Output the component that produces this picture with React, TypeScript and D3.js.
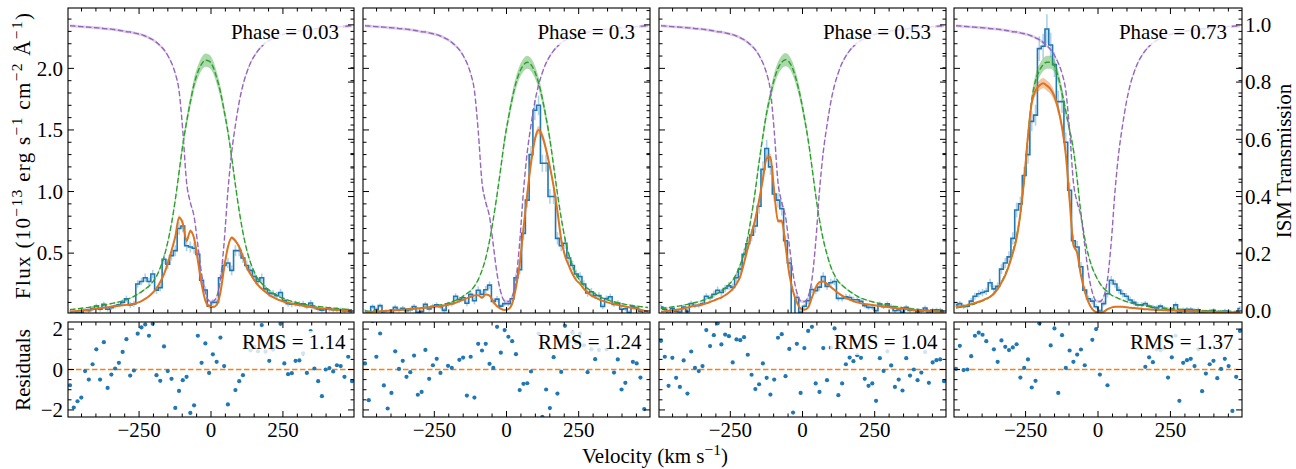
import React from 'react';
import * as d3 from 'd3';

// ---------------- DATA ----------------
const velocity = [
  -490.0, -476.9, -463.9, -450.8, -437.7, -424.7, -411.6, -398.5, -385.5, -372.4,
  -359.3, -346.3, -333.2, -320.1, -307.1, -294.0, -280.9, -267.9, -254.8, -241.7,
  -228.7, -215.6, -202.5, -189.5, -176.4, -163.3, -150.3, -137.2, -124.1, -111.1,
  -98.0, -84.9, -71.9, -58.8, -45.7, -32.7, -19.6, -6.5, 6.5, 19.6,
  32.7, 45.7, 58.8, 71.9, 84.9, 98.0, 111.1, 124.1, 137.2, 150.3,
  163.3, 176.4, 189.5, 202.5, 215.6, 228.7, 241.7, 254.8, 267.9, 280.9,
  294.0, 307.1, 320.1, 333.2, 346.3, 359.3, 372.4, 385.5, 398.5, 411.6,
  424.7, 437.7, 450.8, 463.9, 476.9, 490.0,
];

const phaseLabels = ['0.03', '0.3', '0.53', '0.73'];
const rmsLabels = ['1.14', '1.24', '1.04', '1.37'];

const ismTransmission = [
  0.997, 0.996, 0.995, 0.994, 0.993, 0.992, 0.991, 0.990, 0.989, 0.987,
  0.986, 0.985, 0.983, 0.981, 0.979, 0.976, 0.975, 0.972, 0.969, 0.966,
  0.961, 0.955, 0.948, 0.939, 0.927, 0.913, 0.893, 0.867, 0.830, 0.770,
  0.630, 0.450, 0.380, 0.330, 0.230, 0.130, 0.065, 0.035, 0.033, 0.050,
  0.110, 0.240, 0.420, 0.555, 0.650, 0.730, 0.790, 0.833, 0.867, 0.891,
  0.910, 0.925, 0.938, 0.946, 0.954, 0.960, 0.964, 0.968, 0.972, 0.974,
  0.977, 0.979, 0.981, 0.983, 0.985, 0.986, 0.987, 0.989, 0.990, 0.991,
  0.992, 0.993, 0.994, 0.995, 0.996, 0.997,
];
const ismUnc = 0.005;

const flux1 = [
  0.020, 0.012, 0.015, 0.018, 0.036, 0.032, 0.050, 0.070, 0.045, 0.085,
  0.045, 0.058, 0.070, 0.080, 0.100, 0.130, 0.080, 0.088, 0.250, 0.270,
  0.300, 0.270, 0.330, 0.200, 0.220, 0.450, 0.410, 0.480, 0.520, 0.700,
  0.720, 0.560, 0.550, 0.540, 0.490, 0.280, 0.200, 0.070, 0.100, 0.100,
  0.300, 0.400, 0.420, 0.360, 0.520, 0.520, 0.460, 0.400, 0.360, 0.310,
  0.270, 0.300, 0.210, 0.175, 0.170, 0.155, 0.180, 0.115, 0.090, 0.085,
  0.090, 0.085, 0.088, 0.065, 0.095, 0.060, 0.047, 0.037, 0.048, 0.046,
  0.041, 0.042, 0.038, 0.030, 0.038, 0.022,
];
const flux2 = [
  0.028, 0.008, 0.066, 0.042, 0.074, 0.012, 0.006, 0.012, 0.060, 0.039,
  0.052, 0.032, 0.041, 0.067, 0.020, 0.025, 0.084, 0.047, 0.069, 0.081,
  0.065, 0.035, 0.086, 0.090, 0.150, 0.122, 0.138, 0.093, 0.165, 0.113,
  0.199, 0.166, 0.203, 0.240, 0.108, 0.127, 0.070, 0.090, 0.089, 0.130,
  0.300, 0.366, 0.660, 0.930, 1.300, 1.660, 1.700, 1.230, 1.230, 0.960,
  0.960, 0.620, 0.560, 0.580, 0.460, 0.400, 0.330, 0.310, 0.250, 0.176,
  0.187, 0.156, 0.155, 0.067, 0.132, 0.146, 0.084, 0.095, 0.045, 0.048,
  0.018, 0.064, 0.055, 0.029, 0.006, 0.005,
];
const flux3 = [
  0.062, 0.044, 0.011, 0.052, 0.029, 0.022, 0.063, 0.025, 0.091, 0.074,
  0.076, 0.090, 0.150, 0.138, 0.166, 0.199, 0.180, 0.213, 0.234, 0.222,
  0.300, 0.370, 0.490, 0.576, 0.646, 0.720, 0.880, 1.180, 1.350, 1.200,
  0.980, 0.930, 0.860, 0.600, 0.420, -0.020, 0.140, 0.020, 0.069, 0.113,
  0.205, 0.196, 0.224, 0.310, 0.230, 0.260, 0.270, 0.133, 0.133, 0.145,
  0.140, 0.122, 0.121, 0.109, 0.074, 0.060, 0.059, 0.032, 0.087, 0.065,
  0.088, 0.065, 0.032, 0.038, 0.020, 0.060, 0.034, 0.039, 0.023, 0.031,
  0.054, 0.013, 0.037, 0.039, 0.038, 0.009,
];
const flux4 = [
  0.080, 0.090, 0.065, 0.070, 0.110, 0.150, 0.170, 0.180, 0.190, 0.260,
  0.210, 0.230, 0.370, 0.420, 0.470, 0.620, 0.850, 0.900, 1.130, 1.300,
  1.570, 1.620, 2.160, 2.180, 2.320, 2.190, 2.030, 1.730, 1.730, 1.400,
  1.010, 0.600, 0.550, 0.390, 0.200, 0.130, 0.110, 0.065, 0.030, 0.090,
  0.170, 0.280, 0.250, 0.200, 0.170, 0.150, 0.120, 0.100, 0.080, 0.080,
  0.090, 0.070, 0.060, 0.055, 0.070, 0.050, 0.040, 0.045, 0.080, 0.020,
  0.040, 0.045, 0.045, 0.035, 0.040, 0.015, 0.025, 0.030, 0.035, 0.020,
  0.022, 0.030, 0.025, 0.000, 0.015, 0.050,
];

const fluxErr1 = [
  0.018, 0.018, 0.018, 0.018, 0.018, 0.018, 0.020, 0.020, 0.020, 0.020,
  0.020, 0.020, 0.020, 0.020, 0.025, 0.025, 0.025, 0.025, 0.030, 0.030,
  0.035, 0.030, 0.035, 0.030, 0.030, 0.040, 0.040, 0.040, 0.045, 0.050,
  0.050, 0.045, 0.045, 0.045, 0.040, 0.035, 0.030, 0.020, 0.025, 0.025,
  0.035, 0.040, 0.040, 0.040, 0.045, 0.045, 0.040, 0.040, 0.040, 0.035,
  0.035, 0.035, 0.030, 0.030, 0.030, 0.030, 0.030, 0.025, 0.025, 0.025,
  0.025, 0.025, 0.025, 0.020, 0.025, 0.020, 0.020, 0.020, 0.020, 0.020,
  0.020, 0.020, 0.020, 0.018, 0.018, 0.018,
];
const fluxErr2 = [
  0.018, 0.018, 0.018, 0.018, 0.018, 0.018, 0.018, 0.018, 0.020, 0.020,
  0.020, 0.020, 0.020, 0.020, 0.020, 0.020, 0.020, 0.020, 0.020, 0.020,
  0.020, 0.020, 0.022, 0.022, 0.025, 0.025, 0.025, 0.025, 0.028, 0.028,
  0.030, 0.030, 0.030, 0.030, 0.025, 0.025, 0.020, 0.020, 0.020, 0.025,
  0.035, 0.040, 0.050, 0.060, 0.070, 0.080, 0.080, 0.070, 0.070, 0.060,
  0.060, 0.050, 0.045, 0.045, 0.040, 0.040, 0.035, 0.035, 0.030, 0.030,
  0.030, 0.028, 0.028, 0.022, 0.025, 0.025, 0.022, 0.022, 0.020, 0.020,
  0.018, 0.020, 0.020, 0.018, 0.018, 0.018,
];
const fluxErr3 = [
  0.020, 0.020, 0.018, 0.020, 0.018, 0.018, 0.020, 0.018, 0.022, 0.020,
  0.020, 0.022, 0.025, 0.025, 0.028, 0.030, 0.030, 0.030, 0.032, 0.032,
  0.035, 0.040, 0.045, 0.045, 0.050, 0.055, 0.060, 0.065, 0.070, 0.065,
  0.060, 0.060, 0.055, 0.045, 0.040, 0.020, 0.025, 0.018, 0.020, 0.025,
  0.030, 0.030, 0.030, 0.035, 0.030, 0.032, 0.032, 0.025, 0.025, 0.025,
  0.025, 0.025, 0.025, 0.022, 0.020, 0.020, 0.020, 0.018, 0.020, 0.020,
  0.020, 0.020, 0.018, 0.018, 0.018, 0.020, 0.018, 0.018, 0.018, 0.018,
  0.020, 0.018, 0.018, 0.018, 0.018, 0.018,
];
const fluxErr4 = [
  0.020, 0.022, 0.020, 0.020, 0.025, 0.028, 0.030, 0.030, 0.030, 0.032,
  0.030, 0.032, 0.040, 0.042, 0.045, 0.050, 0.060, 0.060, 0.070, 0.075,
  0.080, 0.085, 0.100, 0.100, 0.120, 0.100, 0.100, 0.090, 0.090, 0.080,
  0.065, 0.050, 0.048, 0.040, 0.030, 0.025, 0.025, 0.020, 0.018, 0.022,
  0.030, 0.035, 0.032, 0.030, 0.030, 0.028, 0.025, 0.025, 0.022, 0.022,
  0.022, 0.020, 0.020, 0.020, 0.020, 0.020, 0.018, 0.018, 0.022, 0.018,
  0.018, 0.018, 0.018, 0.018, 0.018, 0.018, 0.018, 0.018, 0.018, 0.018,
  0.018, 0.018, 0.018, 0.018, 0.018, 0.018,
];

const model1 = [
  0.026, 0.028, 0.031, 0.034, 0.037, 0.040, 0.044, 0.048, 0.052, 0.056,
  0.060, 0.064, 0.068, 0.072, 0.076, 0.080, 0.084, 0.089, 0.098, 0.110,
  0.128, 0.150, 0.178, 0.213, 0.265, 0.330, 0.417, 0.520, 0.635, 0.790,
  0.740, 0.600, 0.680, 0.620, 0.440, 0.250, 0.115, 0.070, 0.062, 0.080,
  0.180, 0.380, 0.550, 0.625, 0.600, 0.550, 0.470, 0.385, 0.330, 0.280,
  0.240, 0.210, 0.185, 0.160, 0.142, 0.127, 0.115, 0.105, 0.097, 0.090,
  0.083, 0.078, 0.073, 0.068, 0.063, 0.059, 0.055, 0.051, 0.048, 0.045,
  0.042, 0.039, 0.036, 0.033, 0.030, 0.027,
];
const model2 = [
  0.020, 0.022, 0.024, 0.026, 0.028, 0.030, 0.032, 0.034, 0.036, 0.038,
  0.040, 0.042, 0.045, 0.048, 0.051, 0.054, 0.057, 0.060, 0.063, 0.066,
  0.070, 0.075, 0.081, 0.088, 0.097, 0.108, 0.120, 0.133, 0.145, 0.157,
  0.158, 0.137, 0.165, 0.155, 0.106, 0.068, 0.048, 0.038, 0.045, 0.090,
  0.220, 0.410, 0.700, 0.980, 1.230, 1.420, 1.500, 1.450, 1.340, 1.200,
  1.040, 0.840, 0.610, 0.480, 0.400, 0.330, 0.280, 0.250, 0.210, 0.180,
  0.155, 0.140, 0.125, 0.112, 0.102, 0.094, 0.088, 0.080, 0.073, 0.066,
  0.060, 0.054, 0.047, 0.040, 0.032, 0.026,
];
const model3 = [
  0.025, 0.028, 0.032, 0.036, 0.040, 0.045, 0.051, 0.058, 0.066, 0.072,
  0.078, 0.085, 0.093, 0.103, 0.115, 0.128, 0.140, 0.158, 0.180, 0.210,
  0.250, 0.310, 0.420, 0.540, 0.660, 0.780, 0.930, 1.100, 1.270, 1.280,
  1.000, 0.760, 0.760, 0.560, 0.330, 0.190, 0.100, 0.050, 0.040, 0.060,
  0.140, 0.220, 0.265, 0.270, 0.250, 0.225, 0.200, 0.175, 0.155, 0.137,
  0.122, 0.110, 0.100, 0.092, 0.087, 0.083, 0.079, 0.075, 0.071, 0.067,
  0.063, 0.059, 0.055, 0.051, 0.048, 0.045, 0.042, 0.039, 0.037, 0.035,
  0.032, 0.030, 0.028, 0.027, 0.025, 0.024,
];
const model4 = [
  0.060, 0.066, 0.072, 0.078, 0.086, 0.095, 0.105, 0.117, 0.130, 0.146,
  0.170, 0.210, 0.260, 0.320, 0.400, 0.500, 0.620, 0.820, 1.100, 1.450,
  1.720, 1.820, 1.860, 1.880, 1.860, 1.830, 1.770, 1.670, 1.520, 1.300,
  0.930, 0.570, 0.500, 0.320, 0.190, 0.100, 0.045, 0.022, 0.018, 0.025,
  0.045, 0.058, 0.064, 0.065, 0.064, 0.061, 0.057, 0.054, 0.051, 0.048,
  0.045, 0.043, 0.041, 0.039, 0.038, 0.037, 0.036, 0.034, 0.033, 0.032,
  0.031, 0.030, 0.029, 0.028, 0.027, 0.026, 0.025, 0.024, 0.023, 0.023,
  0.022, 0.022, 0.021, 0.021, 0.020, 0.020,
];

const intrinsic1 = [
  0.042, 0.045, 0.048, 0.052, 0.056, 0.060, 0.065, 0.069, 0.073, 0.078,
  0.083, 0.091, 0.097, 0.104, 0.112, 0.122, 0.134, 0.149, 0.167, 0.185,
  0.209, 0.232, 0.267, 0.311, 0.381, 0.470, 0.590, 0.741, 0.934, 1.155,
  1.379, 1.565, 1.726, 1.871, 1.971, 2.035, 2.066, 2.058, 2.016, 1.925,
  1.809, 1.656, 1.486, 1.277, 1.052, 0.843, 0.667, 0.528, 0.424, 0.348,
  0.288, 0.253, 0.222, 0.199, 0.176, 0.159, 0.141, 0.130, 0.118, 0.108,
  0.101, 0.093, 0.087, 0.081, 0.077, 0.072, 0.068, 0.064, 0.060, 0.057,
  0.054, 0.051, 0.048, 0.045, 0.042, 0.040,
];
const intrinsic2 = [
  0.028, 0.029, 0.030, 0.031, 0.032, 0.033, 0.035, 0.037, 0.039, 0.041,
  0.043, 0.045, 0.048, 0.050, 0.053, 0.056, 0.060, 0.064, 0.068, 0.073,
  0.079, 0.086, 0.094, 0.104, 0.116, 0.132, 0.150, 0.172, 0.196, 0.232,
  0.285, 0.360, 0.460, 0.600, 0.777, 0.974, 1.195, 1.421, 1.595, 1.753,
  1.882, 1.972, 2.027, 2.050, 2.030, 1.972, 1.882, 1.755, 1.599, 1.423,
  1.207, 0.984, 0.785, 0.619, 0.492, 0.398, 0.326, 0.275, 0.240, 0.213,
  0.191, 0.170, 0.152, 0.135, 0.125, 0.113, 0.105, 0.098, 0.090, 0.084,
  0.079, 0.074, 0.070, 0.066, 0.062, 0.059,
];
const intrinsic3 = [
  0.051, 0.055, 0.059, 0.064, 0.068, 0.072, 0.078, 0.084, 0.092, 0.099,
  0.106, 0.116, 0.126, 0.139, 0.155, 0.173, 0.193, 0.217, 0.245, 0.281,
  0.333, 0.405, 0.500, 0.631, 0.810, 1.010, 1.240, 1.450, 1.640, 1.780,
  1.910, 2.000, 2.050, 2.070, 2.050, 1.990, 1.890, 1.760, 1.600, 1.420,
  1.200, 0.970, 0.770, 0.610, 0.490, 0.390, 0.320, 0.270, 0.240, 0.213,
  0.190, 0.170, 0.151, 0.135, 0.124, 0.114, 0.105, 0.098, 0.091, 0.084,
  0.077, 0.072, 0.067, 0.063, 0.058, 0.054, 0.051, 0.047, 0.044, 0.041,
  0.039, 0.036, 0.034, 0.032, 0.030, 0.029,
];
const intrinsic4 = [
  0.055, 0.060, 0.066, 0.072, 0.080, 0.089, 0.100, 0.112, 0.126, 0.145,
  0.175, 0.215, 0.265, 0.330, 0.410, 0.510, 0.640, 0.820, 1.100, 1.450,
  1.740, 1.900, 1.980, 2.030, 2.050, 2.050, 2.020, 1.930, 1.800, 1.650,
  1.500, 1.340, 1.100, 0.820, 0.620, 0.480, 0.380, 0.310, 0.255, 0.215,
  0.185, 0.160, 0.145, 0.130, 0.118, 0.107, 0.098, 0.090, 0.083, 0.077,
  0.072, 0.067, 0.063, 0.059, 0.056, 0.053, 0.050, 0.048, 0.046, 0.044,
  0.042, 0.040, 0.038, 0.037, 0.036, 0.034, 0.033, 0.032, 0.031, 0.030,
  0.029, 0.028, 0.027, 0.026, 0.026, 0.025,
];
const intrinsicRelUnc = [0.026, 0.026, 0.026, 0.026];
const modelRelUnc = [0.022, 0.022, 0.022, 0.022];

const resid1 = [
  -0.78, -1.88, -1.57, -1.39, -0.08, -0.50, 0.26, 1.00, -0.50, 1.35,
  -0.91, -0.25, 0.05, 0.33, 0.87, 1.50, -0.30, -0.05, 1.77, 2.08,
  2.23, 1.67, 2.26, -0.28, -0.56, 1.14, -0.08, -0.46, -1.90, -1.06,
  -0.53, -0.36, -2.15, -1.77, 1.67, 0.33, 1.29, -0.17, 0.75, 0.38,
  1.58, 0.17, -1.73, -2.60, -1.02, -0.58, -0.28, 1.30, 0.95, 1.12,
  0.90, 2.20, 0.88, 0.43, 0.98, 1.10, 2.26, 0.30, -0.23, -0.18,
  0.43, 0.45, 0.80, -0.17, 1.90, 0.05, -0.58, -1.32, 0.00, 0.07,
  -0.10, 0.21, 0.17, -0.36, 0.63, -0.58,
];
const resid2 = [
  0.30, -1.52, 2.40, 0.63, 1.78, -0.79, -1.93, -1.16, 0.90, 0.03,
  0.43, -0.36, -0.13, 0.69, -1.25, -1.11, 0.97, -0.46, 0.21, 0.53,
  -0.17, -2.50, 0.18, 0.08, 2.50, 0.48, 0.59, -1.29, 0.63, -1.39,
  1.27, 0.94, 1.27, 0.28, 0.08, 2.11, 0.83, 1.95, 1.62, 1.40,
  0.76, -1.02, -0.71, -0.68, -0.10, -2.60, 1.78, -2.34, -0.99, -1.91,
  0.61, -1.19, -0.12, 2.16, 1.40, 1.82, 1.30, 1.78, 1.20, -0.13,
  1.00, 0.51, 0.96, -2.50, 0.99, 2.50, -0.15, 0.50, -0.99, -0.66,
  -2.50, 0.38, 0.30, -0.40, -1.96, -2.50,
];
const resid3 = [
  1.42, 0.63, -0.81, 0.58, -0.41, -0.86, 0.45, -1.19, 0.89, 0.08,
  -0.08, 0.17, 1.95, 1.16, 1.70, 2.28, 1.24, 1.73, 1.65, 0.35,
  1.49, 1.45, 1.60, 0.73, -0.26, -0.97, -0.73, 0.30, -0.41, -1.24,
  -0.50, 1.57, 1.75, -0.33, 1.02, -2.13, 1.27, -1.16, 1.06, 1.91,
  2.11, -0.69, -1.11, 1.06, -0.53, 1.08, 2.03, -1.27, -0.69, 0.26,
  0.59, 0.41, 0.71, 0.58, -0.46, -0.81, -0.69, -1.55, 0.56, -0.07,
  0.90, 0.20, -0.86, -0.50, -1.04, 0.56, -0.30, 0.00, -0.53, -0.15,
  0.86, -0.66, 0.35, 0.46, 0.50, -0.58,
];
const resid4 = [
  0.03, 1.17, -0.03, 0.00, 0.66, 1.67, 1.82, 1.72, 1.40, 2.50,
  1.00, 0.38, 1.44, 1.12, 0.96, 1.09, 1.25, -0.40, 0.08, 0.50,
  -0.89, -0.56, 2.28, -2.50, 2.60, 1.19, 2.03, -1.16, 1.70, 0.08,
  0.94, 0.38, 0.74, 0.99, 0.21, 2.50, 1.47, 2.00, -0.25, 2.50,
  -0.78, 3.00, 3.00, 3.00, 3.00, 3.00, 3.00, 3.00, 3.00, 3.00,
  0.13, 0.60, 0.36, 1.00, 0.95, 1.05, -0.40, 0.60, 1.67, -1.55,
  0.33, 0.46, 0.53, 0.17, 1.00, -1.07, -0.20, 0.26, 0.43, -0.43,
  0.03, 0.53, 0.17, -2.05, -0.36, 1.91,
];

const fluxSeries = [flux1, flux2, flux3, flux4];
const fluxErrSeries = [fluxErr1, fluxErr2, fluxErr3, fluxErr4];
const modelSeries = [model1, model2, model3, model4];
const intrinsicSeries = [intrinsic1, intrinsic2, intrinsic3, intrinsic4];
const residSeries = [resid1, resid2, resid3, resid4];

const xMajorTicks = [-250, 0, 250];
const fluxMajorTicks = [0.5, 1.0, 1.5, 2.0];
const ismMajorTicks = [0, 0.2, 0.4, 0.6, 0.8, 1.0];
const residMajorTicks = [-2, 0, 2];

// ---------------- LAYOUT / STYLE ----------------
const W = 1296;
const H = 469;
const PANEL_L = [68, 363, 659, 954];
const PANEL_R = [354, 650, 946, 1242];
const TOP = 8;
const MID = 313;
const RTOP = 322;
const RBOT = 417;
const FONT = '"Liberation Serif", "Times New Roman", "DejaVu Serif", serif';
const FS = 21;

const C_BLUE = '#1f77b4';
const C_GREEN = '#2ca02c';
const C_PURPLE = '#9467bd';
const C_ORANGE = '#dc7420';
const C_ORANGE_DASH = '#ff7f0e';

let measureCtx: CanvasRenderingContext2D | null = null;
function textWidth(t: string, size = FS) {
  if (typeof document === 'undefined') return t.length * size * 0.5;
  if (!measureCtx) {
    const c = document.createElement('canvas');
    measureCtx = c.getContext('2d');
  }
  if (!measureCtx) return t.length * size * 0.5;
  measureCtx.font = `${size}px "Liberation Serif"`;
  return measureCtx.measureText(t).width;
}

const fmt1 = (v: number) => v.toFixed(1);
const fmtInt = (v: number) => (v < 0 ? '\u2212' + Math.abs(v) : String(v));

type TickProps = { x1: number; y1: number; x2: number; y2: number };
const Tick = ({ x1, y1, x2, y2 }: TickProps) => (
  <line x1={x1} y1={y1} x2={x2} y2={y2} stroke="#000" strokeWidth={1} />
);

function Panel({ k }: { k: number }) {
  const L = PANEL_L[k];
  const R = PANEL_R[k];
  const x = d3.scaleLinear().domain([-497, 497]).range([L, R]);
  const yF = d3.scaleLinear().domain([0.014, 2.49]).range([MID, TOP]);
  const yT = d3.scaleLinear().domain([-0.007, 1.059]).range([MID, TOP]);
  const yR = d3.scaleLinear().domain([-2.35, 2.35]).range([RBOT, RTOP]);
  const idx = d3.range(velocity.length);

  const flux = fluxSeries[k];
  const err = fluxErrSeries[k];
  const model = modelSeries[k];
  const intr = intrinsicSeries[k];
  const res = residSeries[k];

  const curveLine = (arr: number[], ys: d3.ScaleLinear<number, number>) =>
    d3.line<number>().x((i) => x(velocity[i])).y((i) => ys(arr[i])).curve(d3.curveMonotoneX)(idx) || '';
  const relBand = (arr: number[], rel: number) =>
    d3
      .area<number>()
      .x((i) => x(velocity[i]))
      .y0((i) => yF(arr[i] * (1 - rel)))
      .y1((i) => yF(arr[i] * (1 + rel)))
      .curve(d3.curveMonotoneX)(idx) || '';
  const ismBand =
    d3
      .area<number>()
      .x((i) => x(velocity[i]))
      .y0((i) => yT(ismTransmission[i] - ismUnc))
      .y1((i) => yT(ismTransmission[i] + ismUnc))
      .curve(d3.curveMonotoneX)(idx) || '';
  const stepPath =
    d3.line<number>().x((i) => x(velocity[i])).y((i) => yF(flux[i])).curve(d3.curveStep)(idx) || '';

  const xMinor = d3.range(-450, 451, 50).filter((v) => !xMajorTicks.includes(v));
  const fMinor = d3.range(1, 25).map((i) => i / 10).filter((v) => !fluxMajorTicks.some((m) => Math.abs(m - v) < 1e-6));
  const tMinor = d3.range(0, 22).map((i) => i * 0.05).filter((v) => !ismMajorTicks.some((m) => Math.abs(m - v) < 1e-6));
  const rMinor = d3.range(-4, 5).map((i) => i * 0.5).filter((v) => !residMajorTicks.includes(v));

  const MAJ = 6;
  const MIN = 3.5;

  const phaseText = `Phase = ${phaseLabels[k]}`;
  const rmsText = `RMS = ${rmsLabels[k]}`;
  const pw = textWidth(phaseText);
  const rw = textWidth(rmsText);
  const phaseRight = R - 15;
  const phaseBase = 39;
  const rmsRight = R - 8.5;
  const rmsBase = 349;

  const clipTop = `clipTop${k}`;
  const clipRes = `clipRes${k}`;

  return (
    <g>
      <defs>
        <clipPath id={clipTop}>
          <rect x={L} y={TOP} width={R - L} height={MID - TOP} />
        </clipPath>
        <clipPath id={clipRes}>
          <rect x={L} y={RTOP} width={R - L} height={RBOT - RTOP} />
        </clipPath>
      </defs>

      {/* ---------- flux axes ---------- */}
      <g clipPath={`url(#${clipTop})`}>
        {idx.map((i) => (
          <line
            key={'e' + i}
            x1={x(velocity[i])}
            x2={x(velocity[i])}
            y1={yF(flux[i] - err[i])}
            y2={yF(flux[i] + err[i])}
            stroke={C_BLUE}
            strokeOpacity={0.35}
            strokeWidth={1.6}
          />
        ))}
        <path d={stepPath} fill="none" stroke={C_BLUE} strokeWidth={1.6} />
        <path d={relBand(intr, intrinsicRelUnc[k])} fill={C_GREEN} fillOpacity={0.4} stroke="none" />
        <path d={curveLine(intr, yF)} fill="none" stroke={C_GREEN} strokeWidth={1.4} strokeDasharray="5.5,2.5" />
        <path d={relBand(model, modelRelUnc[k])} fill={C_ORANGE} fillOpacity={0.4} stroke="none" />
        <path d={curveLine(model, yF)} fill="none" stroke={C_ORANGE} strokeWidth={2} />
        <path d={ismBand} fill={C_PURPLE} fillOpacity={0.3} stroke="none" />
        <path d={curveLine(ismTransmission, yT)} fill="none" stroke={C_PURPLE} strokeWidth={1.4} strokeDasharray="5.5,2.5" />
      </g>
      <rect x={phaseRight - pw - 4} y={phaseBase - 17} width={pw + 8} height={23} fill="#fff" fillOpacity={0.8} />
      <text x={phaseRight} y={phaseBase} textAnchor="end" fontFamily={FONT} fontSize={FS} fill="#000">
        {phaseText}
      </text>
      <rect x={L} y={TOP} width={R - L} height={MID - TOP} fill="none" stroke="#000" strokeWidth={1.1} />

      {xMajorTicks.map((v) => (
        <g key={'fxM' + v}>
          <Tick x1={x(v)} x2={x(v)} y1={MID} y2={MID - MAJ} />
          <Tick x1={x(v)} x2={x(v)} y1={TOP} y2={TOP + MAJ} />
        </g>
      ))}
      {xMinor.map((v) => (
        <g key={'fxm' + v}>
          <Tick x1={x(v)} x2={x(v)} y1={MID} y2={MID - MIN} />
          <Tick x1={x(v)} x2={x(v)} y1={TOP} y2={TOP + MIN} />
        </g>
      ))}
      {fluxMajorTicks.map((v) => (
        <g key={'fyM' + v}>
          <Tick x1={L} x2={L + MAJ} y1={yF(v)} y2={yF(v)} />
          <Tick x1={R} x2={R - MAJ} y1={yF(v)} y2={yF(v)} />
          {k === 0 && (
            <text x={L - 5} y={yF(v)} dy="0.35em" textAnchor="end" fontFamily={FONT} fontSize={FS}>
              {fmt1(v)}
            </text>
          )}
        </g>
      ))}
      {fMinor.map((v) => (
        <g key={'fym' + v}>
          <Tick x1={L} x2={L + MIN} y1={yF(v)} y2={yF(v)} />
          <Tick x1={R} x2={R - MIN} y1={yF(v)} y2={yF(v)} />
        </g>
      ))}
      {ismMajorTicks.map((v) => (
        <g key={'tM' + v}>
          <Tick x1={R} x2={R - MAJ} y1={yT(v)} y2={yT(v)} />
          {k === 3 && (
            <text x={R + 3} y={yT(v)} dy="0.35em" textAnchor="start" fontFamily={FONT} fontSize={FS}>
              {fmt1(v)}
            </text>
          )}
        </g>
      ))}
      {tMinor.map((v) => (
        <Tick key={'tm' + v} x1={R} x2={R - MIN} y1={yT(v)} y2={yT(v)} />
      ))}

      {/* ---------- residual axes ---------- */}
      <g clipPath={`url(#${clipRes})`}>
        <line x1={L} x2={R} y1={yR(0)} y2={yR(0)} stroke={C_ORANGE_DASH} strokeWidth={1.4} strokeDasharray="5.5,2.5" />
        {idx.map((i) => (
          <circle key={'r' + i} cx={x(velocity[i])} cy={yR(res[i])} r={2.1} fill={C_BLUE} />
        ))}
      </g>
      <rect x={rmsRight - rw - 4} y={rmsBase - 18} width={rw + 8} height={24} fill="#fff" fillOpacity={0.8} />
      <text x={rmsRight} y={rmsBase} textAnchor="end" fontFamily={FONT} fontSize={FS} fill="#000">
        {rmsText}
      </text>
      <rect x={L} y={RTOP} width={R - L} height={RBOT - RTOP} fill="none" stroke="#000" strokeWidth={1.1} />
      {xMajorTicks.map((v) => (
        <g key={'rxM' + v}>
          <Tick x1={x(v)} x2={x(v)} y1={RBOT} y2={RBOT - MAJ} />
          <Tick x1={x(v)} x2={x(v)} y1={RTOP} y2={RTOP + MAJ} />
          <text x={x(v)} y={437} textAnchor="middle" fontFamily={FONT} fontSize={FS}>
            {fmtInt(v)}
          </text>
        </g>
      ))}
      {xMinor.map((v) => (
        <g key={'rxm' + v}>
          <Tick x1={x(v)} x2={x(v)} y1={RBOT} y2={RBOT - MIN} />
          <Tick x1={x(v)} x2={x(v)} y1={RTOP} y2={RTOP + MIN} />
        </g>
      ))}
      {residMajorTicks.map((v) => (
        <g key={'ryM' + v}>
          <Tick x1={L} x2={L + MAJ} y1={yR(v)} y2={yR(v)} />
          <Tick x1={R} x2={R - MAJ} y1={yR(v)} y2={yR(v)} />
          {k === 0 && (
            <text x={L - 5} y={yR(v)} dy="0.35em" textAnchor="end" fontFamily={FONT} fontSize={FS}>
              {fmtInt(v)}
            </text>
          )}
        </g>
      ))}
      {rMinor.map((v) => (
        <g key={'rym' + v}>
          <Tick x1={L} x2={L + MIN} y1={yR(v)} y2={yR(v)} />
          <Tick x1={R} x2={R - MIN} y1={yR(v)} y2={yR(v)} />
        </g>
      ))}
    </g>
  );
}

export default function App() {
  const supDy = -8;
  const supFs = 15.5;
  return (
    <svg
      width={W}
      height={H}
      viewBox={`0 0 ${W} ${H}`}
      style={{ position: 'absolute', left: 0, top: 0, background: '#fff' }}
    >
      <rect x={0} y={0} width={W} height={H} fill="#fff" />
      {[0, 1, 2, 3].map((k) => (
        <Panel key={k} k={k} />
      ))}
      <text
        transform="translate(30,156) rotate(-90)"
        textAnchor="middle"
        fontFamily={FONT}
        fontSize={FS}
        textLength={286}
        lengthAdjust="spacing"
      >
        <tspan>Flux (10</tspan>
        <tspan dy={supDy} fontSize={supFs}>{'\u221213'}</tspan>
        <tspan dy={-supDy}> erg s</tspan>
        <tspan dy={supDy} fontSize={supFs}>{'\u22121'}</tspan>
        <tspan dy={-supDy}> cm</tspan>
        <tspan dy={supDy} fontSize={supFs}>{'\u22122'}</tspan>
        <tspan dy={-supDy}> Å</tspan>
        <tspan dy={supDy} fontSize={supFs}>{'\u22121'}</tspan>
        <tspan dy={-supDy}>)</tspan>
      </text>
      <text transform="translate(30,370) rotate(-90)" textAnchor="middle" fontFamily={FONT} fontSize={FS}>
        Residuals
      </text>
      <text transform="translate(1291,161) rotate(-90)" textAnchor="middle" fontFamily={FONT} fontSize={FS}>
        ISM Transmission
      </text>
      <text x={655} y={463} textAnchor="middle" fontFamily={FONT} fontSize={FS}>
        <tspan>Velocity (km s</tspan>
        <tspan dy={supDy} fontSize={supFs}>{'\u22121'}</tspan>
        <tspan dy={-supDy}>)</tspan>
      </text>
    </svg>
  );
}
